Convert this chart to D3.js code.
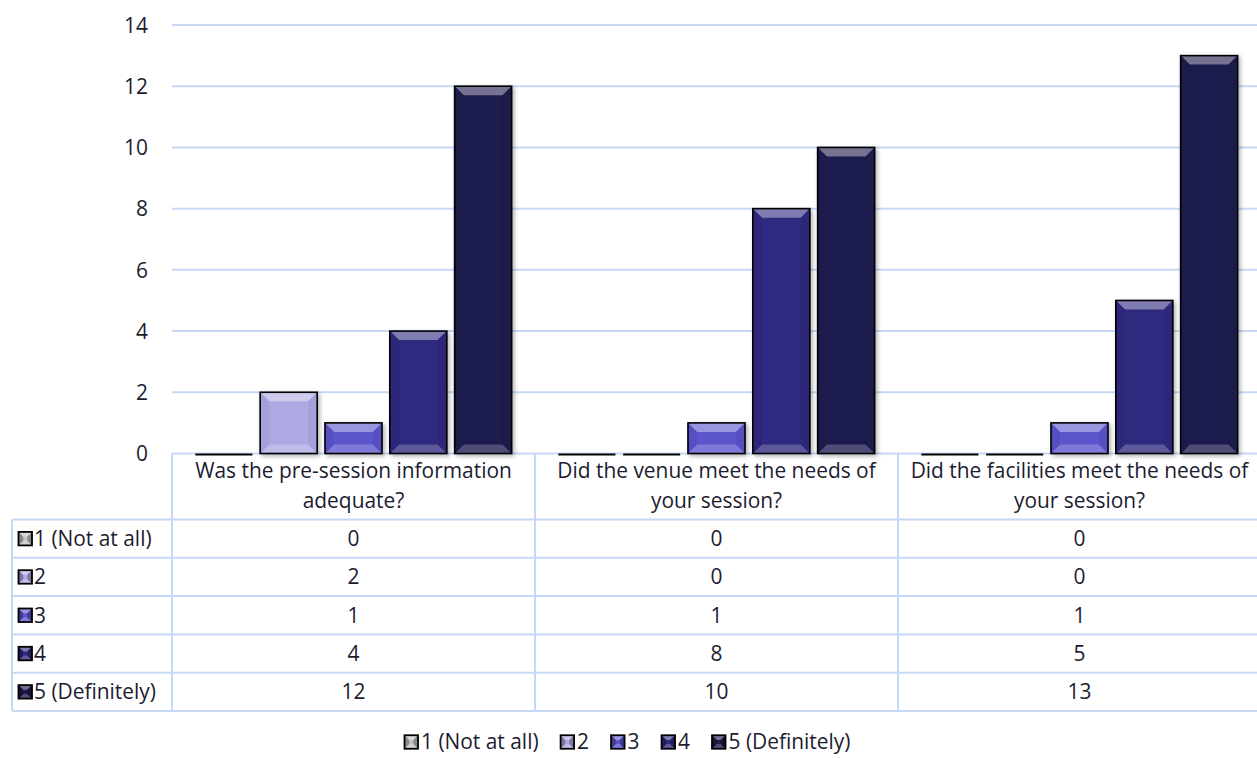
<!DOCTYPE html>
<html>
<head>
<meta charset="utf-8">
<script src="https://cdn.jsdelivr.net/npm/d3@7"></script>
<style>
  html, body { margin: 0; padding: 0; background: #fff; }
  svg { display: block; }
</style>
</head>
<body>
<svg id="chart" width="1257" height="758"></svg>
<script>
// ---- data ----
const categoryLines = [
  ["Was the pre-session information", "adequate?"],
  ["Did the venue meet the needs of", "your session?"],
  ["Did the facilities meet the needs of", "your session?"]
];
const seriesNames = ["1 (Not at all)", "2", "3", "4", "5 (Definitely)"];
const values1 = [0, 0, 0];
const values2 = [2, 0, 0];
const values3 = [1, 1, 1];
const values4 = [4, 8, 5];
const values5 = [12, 10, 13];
const yTicks = [0, 2, 4, 6, 8, 10, 12, 14];
const seriesColors = ["#c4c4c4", "#aea9e3", "#5b54cc", "#2f2a7f", "#1f1b4f"];

const seriesValues = [values1, values2, values3, values4, values5];

// ---- layout ----
const svg = d3.select("#chart");
const plotLeft = 172, plotRight = 1261;
const yBase = 453.5, yTop = 25;
const gridColor = "#c6d8f5";
const textColor = "#1c1c30";
const fontFamily = "'Open Sans', sans-serif";

// fit font size to reference label width
const probe = svg.append("text").attr("font-family", fontFamily).attr("font-size", 100)
  .text(categoryLines[2][0]);
const probeW = probe.node().getComputedTextLength();
probe.remove();
const fs = 100 * 338 / probeW;

const x0 = d3.scaleBand().domain(d3.range(categoryLines.length)).range([plotLeft, plotRight]).padding(0);
const x1 = d3.scaleBand().domain(d3.range(seriesNames.length)).range([0, x0.bandwidth()])
  .paddingInner(0.12).paddingOuter(0.36);
const y = d3.scaleLinear().domain([0, 14]).range([yBase, yTop]);

const defs = svg.append("defs");
const f = defs.append("filter").attr("id", "shadow").attr("x", "-20%").attr("y", "-20%").attr("width", "150%").attr("height", "150%");
f.append("feDropShadow").attr("dx", 2).attr("dy", 2).attr("stdDeviation", 2)
  .attr("flood-color", "#000").attr("flood-opacity", 0.3);

// y axis labels
const yAxis = d3.axisLeft(y).tickValues(yTicks).tickSize(0).tickPadding(0);
const gAxis = svg.append("g").attr("transform", `translate(148,0)`).call(yAxis);
gAxis.select(".domain").remove();
gAxis.selectAll("text").attr("font-family", fontFamily).attr("font-size", fs)
  .attr("fill", textColor).attr("dy", "0.35em").attr("x", 0);

// gridlines
svg.append("g").selectAll("line").data(yTicks).join("line")
  .attr("x1", plotLeft).attr("x2", plotRight)
  .attr("y1", d => y(d)).attr("y2", d => y(d))
  .attr("stroke", gridColor).attr("stroke-width", 2);

// bevel drawing
function mix(c, target, t) { return d3.interpolateRgb(c, target)(t); }
function drawBevel(g, x, yy, w, h, color, d, sideDark, sw) {
  d = Math.min(d, h / 2, w / 2);
  const poly = pts => pts.map(p => p.join(",")).join(" ");
  g.append("rect").attr("x", x).attr("y", yy).attr("width", w).attr("height", h).attr("fill", color);
  g.append("polygon").attr("points", poly([[x, yy], [x + w, yy], [x + w - d, yy + d], [x + d, yy + d]]))
    .attr("fill", mix(color, "#fff", 0.38));
  g.append("polygon").attr("points", poly([[x, yy + h], [x + w, yy + h], [x + w - d, yy + h - d], [x + d, yy + h - d]]))
    .attr("fill", mix(color, "#fff", 0.22));
  g.append("polygon").attr("points", poly([[x, yy], [x + d, yy + d], [x + d, yy + h - d], [x, yy + h]]))
    .attr("fill", mix(color, "#000", sideDark));
  g.append("polygon").attr("points", poly([[x + w, yy], [x + w - d, yy + d], [x + w - d, yy + h - d], [x + w, yy + h]]))
    .attr("fill", mix(color, "#000", sideDark));
  g.append("rect").attr("x", x).attr("y", yy).attr("width", w).attr("height", h)
    .attr("fill", "none").attr("stroke", "#000").attr("stroke-width", sw);
}

// bars
const barsG = svg.append("g");
seriesValues.forEach((vals, si) => {
  vals.forEach((v, ci) => {
    const bx = x0(ci) + x1(si);
    const bw = x1.bandwidth();
    if (v === 0) {
      barsG.append("line").attr("x1", bx).attr("x2", bx + bw)
        .attr("y1", y(0) + 1).attr("y2", y(0) + 1)
        .attr("stroke", "#000").attr("stroke-width", 2);
      return;
    }
    const g = barsG.append("g").attr("filter", "url(#shadow)");
    drawBevel(g, bx, y(v), bw, y(0) - y(v), seriesColors[si], 9, 0.05, 1.6);
  });
});

// ---- data table ----
const tableLeft = 12;
const headerTop = yBase, headerBottom = 519.5;
const rowH = 38.3;
const rowTops = seriesNames.map((_, i) => headerBottom + i * rowH);
const tableBottom = headerBottom + seriesNames.length * rowH;
const tg = svg.append("g");
const lineAttr = sel => sel.attr("stroke", gridColor).attr("stroke-width", 2);

lineAttr(tg.append("line").attr("x1", tableLeft).attr("x2", tableLeft).attr("y1", headerBottom).attr("y2", tableBottom));
d3.range(categoryLines.length).forEach(ci => {
  lineAttr(tg.append("line").attr("x1", x0(ci)).attr("x2", x0(ci)).attr("y1", headerTop).attr("y2", tableBottom));
});
rowTops.concat([tableBottom]).forEach(yy => {
  lineAttr(tg.append("line").attr("x1", tableLeft).attr("x2", plotRight).attr("y1", yy).attr("y2", yy));
});

// category headers
categoryLines.forEach((lines, ci) => {
  const cx = x0(ci) + x0.bandwidth() / 2;
  lines.forEach((ln, li) => {
    tg.append("text").attr("x", cx).attr("y", 471 + li * 30).attr("dy", "0.35em")
      .attr("text-anchor", "middle").attr("font-family", fontFamily).attr("font-size", fs)
      .attr("fill", textColor).text(ln);
  });
});

function keyIcon(g, x, yy, color, s) {
  drawBevel(g, x, yy - s / 2, s, s, color, s * 0.35, 0.3, 1.8);
}

// rows
seriesNames.forEach((name, si) => {
  const cy = rowTops[si] + rowH / 2;
  keyIcon(tg, 18.5, cy, seriesColors[si], 13.5);
  tg.append("text").attr("x", 34).attr("y", cy).attr("dy", "0.35em")
    .attr("font-family", fontFamily).attr("font-size", fs).attr("fill", textColor).text(name);
  seriesValues[si].forEach((v, ci) => {
    tg.append("text").attr("x", x0(ci) + x0.bandwidth() / 2).attr("y", cy).attr("dy", "0.35em")
      .attr("text-anchor", "middle").attr("font-family", fontFamily).attr("font-size", fs)
      .attr("fill", textColor).text(v);
  });
});

// ---- bottom legend ----
const lg = svg.append("g");
const legendY = 742;
const iconS = 13.5, iconGap = 3, itemGap = 22;
let lx = 0;
const items = [];
seriesNames.forEach((name, si) => {
  const t = lg.append("text").attr("y", legendY).attr("dy", "0.35em")
    .attr("font-family", fontFamily).attr("font-size", fs).attr("fill", textColor).text(name);
  const w = t.node().getComputedTextLength();
  items.push({ t, x: lx, si });
  lx += iconS + iconGap + w + itemGap;
});
const totalW = lx - itemGap;
const startX = 627.5 - totalW / 2;
items.forEach(it => {
  keyIcon(lg, startX + it.x, legendY, seriesColors[it.si], iconS);
  it.t.attr("x", startX + it.x + iconS + iconGap);
});
</script>
</body>
</html>
